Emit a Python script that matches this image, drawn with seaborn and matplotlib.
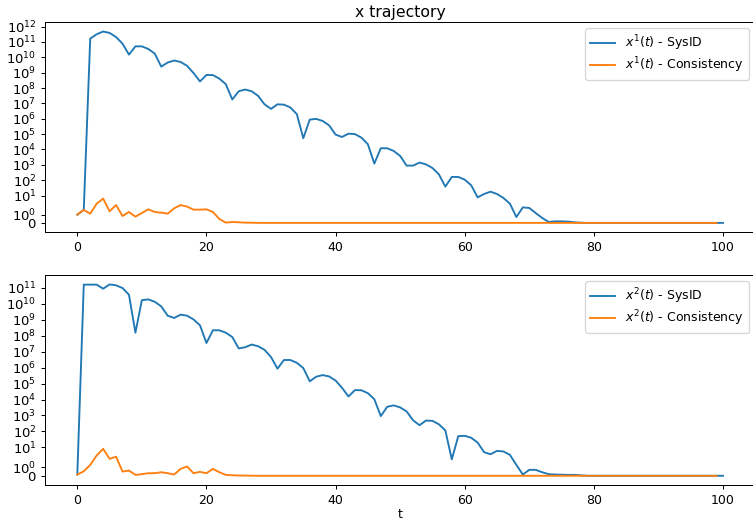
import matplotlib
matplotlib.use("Agg")
import matplotlib.pyplot as plt
import seaborn as sns
import numpy as np
import pandas as pd

plt.rcParams['font.family'] = ['DejaVu Sans']

t_sysid = list(range(101))
t_cons = list(range(100))

x1_sysid = [1.0, 1.6, 1.66e11, 3.2e11, 4.8e11, 3.9e11, 2.1e11, 7.8e10, 1.5e10, 5.2e10,
            5.2e10, 3.5e10, 1.75e10, 2.5e9, 4.6e9, 6.2e9, 5.0e9, 2.8e9, 9.5e8, 2.7e8,
            7.1e8, 7.0e8, 4.1e8, 1.8e8, 1.8e7, 6.2e7, 8.0e7, 6.2e7, 3.1e7, 8.7e6,
            4.4e6, 8.7e6, 8.3e6, 5.4e6, 2.0e6, 5.4e4, 8.8e5, 9.8e5, 7.2e5, 3.7e5,
            9.3e4, 6.5e4, 1.07e5, 1.0e5, 5.9e4, 2.2e4, 1.2e3, 1.2e4, 1.2e4, 8.0e3,
            3.8e3, 890, 890, 1400, 1070, 620, 240, 38, 162, 162,
            108, 47, 7.6, 12.6, 17.8, 12.6, 6.9, 2.96, 0.74, 1.87,
            1.8, 1.2, 0.63, 0.16, 0.23, 0.23, 0.2, 0.12, 0.07, 0.05,
            0.05, 0.05, 0.05, 0.05, 0.05, 0.05, 0.05, 0.05, 0.05, 0.05,
            0.05, 0.05, 0.05, 0.05, 0.05, 0.05, 0.05, 0.05, 0.05, 0.05,
            0.05]

x1_cons = [1.02, 1.56, 1.13, 2.96, 6.3, 1.41, 2.4, 0.86, 1.33, 0.78,
           1.21, 1.64, 1.33, 1.25, 1.13, 1.76, 2.4, 1.96, 1.6, 1.6,
           1.64, 1.33, 0.51, 0.08, 0.16, 0.12, 0.08, 0.07, 0.05, 0.05,
           0.05, 0.05, 0.05, 0.05, 0.05, 0.05, 0.05, 0.05, 0.05, 0.05,
           0.05, 0.05, 0.05, 0.05, 0.05, 0.05, 0.05, 0.05, 0.05, 0.05,
           0.05, 0.05, 0.05, 0.05, 0.05, 0.05, 0.05, 0.05, 0.05, 0.05,
           0.05, 0.05, 0.05, 0.05, 0.05, 0.05, 0.05, 0.05, 0.05, 0.05,
           0.05, 0.05, 0.05, 0.05, 0.05, 0.05, 0.05, 0.05, 0.05, 0.05,
           0.05, 0.05, 0.05, 0.05, 0.05, 0.05, 0.05, 0.05, 0.05, 0.05,
           0.05, 0.05, 0.05, 0.05, 0.05, 0.05, 0.05, 0.05, 0.05, 0.05]

x2_sysid = [0.19, 1.6e11, 1.6e11, 1.6e11, 8.9e10, 1.65e11, 1.45e11, 9.8e10, 3.7e10, 1.55e8,
            1.7e10, 1.9e10, 1.35e10, 6.9e9, 1.8e9, 1.3e9, 2.1e9, 1.8e9, 1.05e9, 4.5e8,
            3.5e7, 2.2e8, 2.2e8, 1.55e8, 8.3e7, 1.6e7, 1.9e7, 2.8e7, 2.2e7, 1.3e7,
            4.6e6, 8.6e5, 3.0e6, 3.0e6, 2.0e6, 9.4e5, 1.38e5, 2.7e5, 3.4e5, 2.8e5,
            1.55e5, 5.4e4, 1.55e4, 3.9e4, 3.8e4, 2.5e4, 1.05e4, 910, 3500, 4300,
            3200, 1800, 500, 245, 480, 460, 280, 115, 1.9, 50,
            53, 40, 20, 5.0, 3.7, 6.0, 5.5, 3.4, 1.28, 0.19,
            0.72, 0.72, 0.45, 0.23, 0.19, 0.17, 0.15, 0.15, 0.1, 0.05,
            0.05, 0.05, 0.05, 0.05, 0.05, 0.05, 0.05, 0.05, 0.05, 0.05,
            0.05, 0.05, 0.05, 0.05, 0.05, 0.05, 0.05, 0.05, 0.05, 0.05,
            0.05]

x2_cons = [0.19, 0.56, 1.28, 3.1, 8.1, 1.96, 2.6, 0.53, 0.64, 0.15,
           0.23, 0.34, 0.34, 0.45, 0.34, 0.19, 0.83, 1.1, 0.34, 0.49,
           0.34, 0.83, 0.45, 0.15, 0.11, 0.08, 0.07, 0.06, 0.05, 0.05,
           0.05, 0.05, 0.05, 0.05, 0.05, 0.05, 0.05, 0.05, 0.05, 0.05,
           0.05, 0.05, 0.05, 0.05, 0.05, 0.05, 0.05, 0.05, 0.05, 0.05,
           0.05, 0.05, 0.05, 0.05, 0.05, 0.05, 0.05, 0.05, 0.05, 0.05,
           0.05, 0.05, 0.05, 0.05, 0.05, 0.05, 0.05, 0.05, 0.05, 0.05,
           0.05, 0.05, 0.05, 0.05, 0.05, 0.05, 0.05, 0.05, 0.05, 0.05,
           0.05, 0.05, 0.05, 0.05, 0.05, 0.05, 0.05, 0.05, 0.05, 0.05,
           0.05, 0.05, 0.05, 0.05, 0.05, 0.05, 0.05, 0.05, 0.05, 0.05]

labels1 = [r'$x^1(t)$ - SysID', r'$x^1(t)$ - Consistency']
labels2 = [r'$x^2(t)$ - SysID', r'$x^2(t)$ - Consistency']
colors = ['#1f77b4', '#ff7f0e']

DPI = 90
fig, axes = plt.subplots(2, 1, figsize=(753 / DPI, 523 / DPI), dpi=DPI)
fig.subplots_adjust(left=0.0598, right=1.003, top=0.958, bottom=0.072, hspace=0.2014)

for ax, sys_vals, cons_vals, labs in [(axes[0], x1_sysid, x1_cons, labels1),
                                      (axes[1], x2_sysid, x2_cons, labels2)]:
    ax.set_yscale('symlog')
    sns.lineplot(x=t_sysid, y=sys_vals, ax=ax, color=colors[0], label=labs[0], linewidth=1.5)
    sns.lineplot(x=t_cons, y=cons_vals, ax=ax, color=colors[1], label=labs[1], linewidth=1.5)
    ax.relim()
    ax.autoscale_view()
    ax.yaxis.set_minor_locator(matplotlib.ticker.NullLocator())
    ax.legend(loc='upper right', labelspacing=0.2)
    ax.set_xticks([0, 20, 40, 60, 80, 100])
    ax.tick_params(axis='y', labelsize=10.5)

axes[0].set_title('x trajectory', fontsize=12.5, pad=4)
axes[1].set_xlabel('t', labelpad=1)

fig.savefig('out.png', dpi=DPI)
